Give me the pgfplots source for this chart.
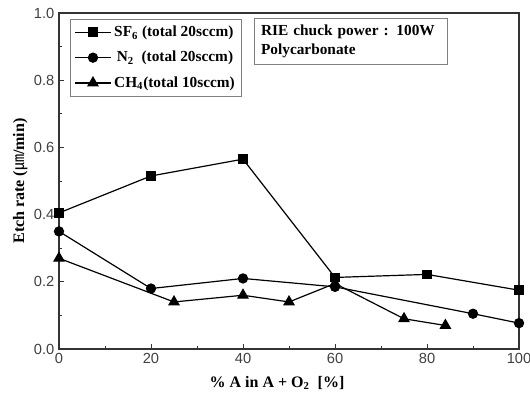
\documentclass[border=0pt]{standalone}
\usepackage{pgfplots}
\pgfplotsset{compat=1.18}
\usepackage{fontspec}
\setmainfont{Liberation Serif}
\newfontfamily\tickfont{Liberation Sans}
\newfontfamily\cjk{Noto Sans CJK SC}
\begin{document}
\begin{tikzpicture}
\begin{axis}[
  scale only axis,
  width=345pt, height=252pt,
  xmin=0, xmax=100, ymin=0, ymax=1.0,
  xtick={0,20,...,100},
  ytick={0,0.2,...,1.0},
  minor xtick={10,30,50,70,90},
  minor ytick={0.1,0.3,0.5,0.7,0.9},
  tick align=inside,
  xtick pos=bottom, ytick pos=left,
  major tick length=4pt, minor tick length=2.5pt,
  axis line style={line width=0.9pt, black!80},
  tick style={black!80, line width=0.6pt},
  yticklabel style={/pgf/number format/.cd, fixed, fixed zerofill, precision=1},
  /pgf/number format/assume math mode=true,
  ticklabel style={font=\tickfont\fontsize{11}{13}\selectfont, text=black!75},
  xlabel={\bfseries \% A in A + O\textsubscript{2}\ \ [\%]},
  ylabel={\bfseries Etch rate (\textmd{\cjk ㎛}/min)},
  label style={font=\fontsize{12}{14}\selectfont},
  xlabel style={yshift=-2pt, xshift=-9pt},
  ylabel style={yshift=-2pt},
  legend style={at={(0.024,0.982)}, anchor=north west, draw=black!50, line width=0.5pt,
    font=\bfseries\fontsize{11.5}{12}\selectfont, row sep=5.5pt, inner sep=3pt},
  legend image code/.code={\draw[#1] (0pt,0pt) -- (27pt,0pt); \draw[#1,only marks] plot coordinates {(13.5pt,0pt)};},
  legend cell align=left,
]
\addplot[black, line width=0.9pt, mark=square*, mark size=3.2pt, mark options={fill=black, solid}] coordinates {
(0,0.405)(20,0.515)(40,0.565)(60,0.213)(80,0.222)(100,0.175)};
\addlegendentry{SF\textsubscript{6} (total 20sccm)}
\addplot[black, line width=0.9pt, mark=*, mark size=3.4pt, mark options={fill=black, solid}] coordinates {
(0,0.35)(20,0.18)(40,0.21)(60,0.185)(90,0.105)(100,0.077)};
\addlegendentry{\,N\textsubscript{2}\ \ (total 20sccm)}
\addplot[black, line width=0.9pt, mark=triangle*, mark size=4.3pt, mark options={fill=black, solid}] coordinates {
(0,0.27)(25,0.14)(40,0.16)(50,0.14)(60,0.195)(75,0.09)(84,0.07)};
\addlegendentry{CH\textsubscript{4}(total 10sccm)}
\node[draw=black!50, line width=0.5pt, anchor=north west, align=left,
  font=\bfseries\fontsize{11.5}{14}\selectfont, inner sep=5pt, text width=135pt]
  at (axis cs:42.4,0.985) {RIE chuck power : 100W\\Polycarbonate};
\coordinate (ll) at (rel axis cs:0,0);
\coordinate (ur) at (rel axis cs:1,1);
\end{axis}
\pgfresetboundingbox
\path[use as bounding box] ([xshift=-44.25pt,yshift=-37.5pt]ll) rectangle ([xshift=8.25pt,yshift=9.75pt]ur);
\end{tikzpicture}
\end{document}
